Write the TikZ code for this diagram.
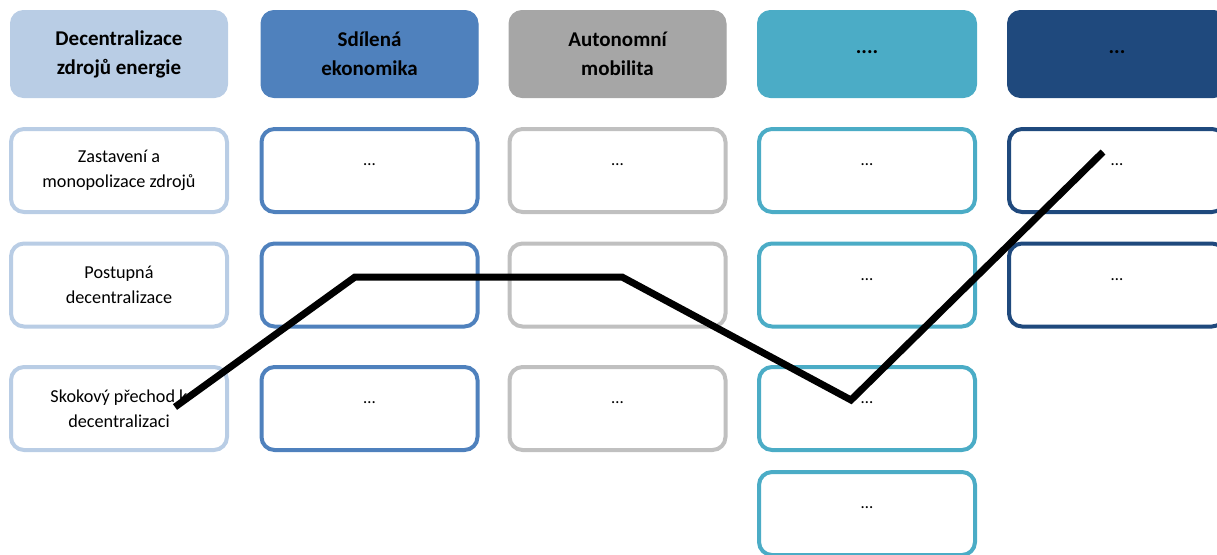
\documentclass[tikz,border=0pt]{standalone}
\usepackage{fontspec}
\setmainfont{Carlito}
\definecolor{cLight}{HTML}{B9CDE5}
\definecolor{cBlue}{HTML}{4F81BD}
\definecolor{cGrayF}{HTML}{A6A6A6}
\definecolor{cGrayL}{HTML}{C0C0C0}
\definecolor{cTeal}{HTML}{4BACC6}
\definecolor{cNavy}{HTML}{1F497D}
\tikzset{
  headbox/.style={rounded corners=13pt, minimum width=217pt, minimum height=87pt,
    line width=1pt, align=center, inner sep=0pt,
    font=\fontsize{21}{29}\selectfont\bfseries},
  cellbox/.style={rounded corners=13pt, minimum width=216pt, minimum height=83pt,
    line width=4pt, fill=white, align=center, inner sep=0pt,
    font=\fontsize{18.2}{25}\selectfont},
  path line/.style={line width=7pt, black, line join=miter, line cap=butt}
}
\newcommand{\el}{\raisebox{11pt}{\fontsize{17}{17}\selectfont\textellipsis}}
\begin{document}
\begin{tikzpicture}[x=1pt, y=-1pt]
  \useasboundingbox (0,0) rectangle (1217,554);
  % column headers
  \node[headbox, fill=cLight, draw=cLight] (h1) at (119,54) {Decentralizace\\zdrojů energie};
  \node[headbox, fill=cBlue, draw=cBlue] (h2) at (369.5,54) {Sdílená\\ekonomika};
  \node[headbox, fill=cGrayF, draw=cGrayF] (h3) at (617.5,54) {Autonomní\\mobilita};
  \node[headbox, fill=cTeal, draw=cTeal, minimum width=219pt] (h4) at (867,54) {\raisebox{4pt}{....}};
  \node[headbox, fill=cNavy, draw=cNavy, minimum width=219pt] (h5) at (1117,54) {\raisebox{4pt}{...}};
  % column 1
  \node[cellbox, draw=cLight] (a1) at (119,170.5) {Zastavení a\\monopolizace zdrojů};
  \node[cellbox, draw=cLight] (a2) at (119,285) {Postupná\\decentralizace};
  \node[cellbox, draw=cLight] (a3) at (119,408.5) {Skokový přechod k\\decentralizaci};
  % column 2
  \node[cellbox, draw=cBlue] (b1) at (369.5,170.5) {\el};
  \node[cellbox, draw=cBlue] (b2) at (369.5,285) {};
  \node[cellbox, draw=cBlue] (b3) at (369.5,408.5) {\el};
  % column 3
  \node[cellbox, draw=cGrayL] (c1) at (617.5,170.5) {\el};
  \node[cellbox, draw=cGrayL] (c2) at (617.5,285) {};
  \node[cellbox, draw=cGrayL] (c3) at (617.5,408.5) {\el};
  % column 4
  \node[cellbox, draw=cTeal] (d1) at (867,170.5) {\el};
  \node[cellbox, draw=cTeal] (d2) at (867,285) {\el};
  \node[cellbox, draw=cTeal] (d3) at (867,408.5) {\el};
  \node[cellbox, draw=cTeal] (d4) at (867,513.5) {\el};
  % column 5
  \node[cellbox, draw=cNavy] (e1) at (1117,170.5) {\el};
  \node[cellbox, draw=cNavy] (e2) at (1117,285) {\el};
  % scenario path
  \coordinate (p1) at (175,407);
  \coordinate (p2) at (355,277);
  \coordinate (p3) at (622,277);
  \coordinate (p4) at (851,400);
  \coordinate (p5) at (1103,152);
  \draw[path line] (p1) -- (p2) -- (p3) -- (p4) -- (p5);
\end{tikzpicture}
\end{document}
